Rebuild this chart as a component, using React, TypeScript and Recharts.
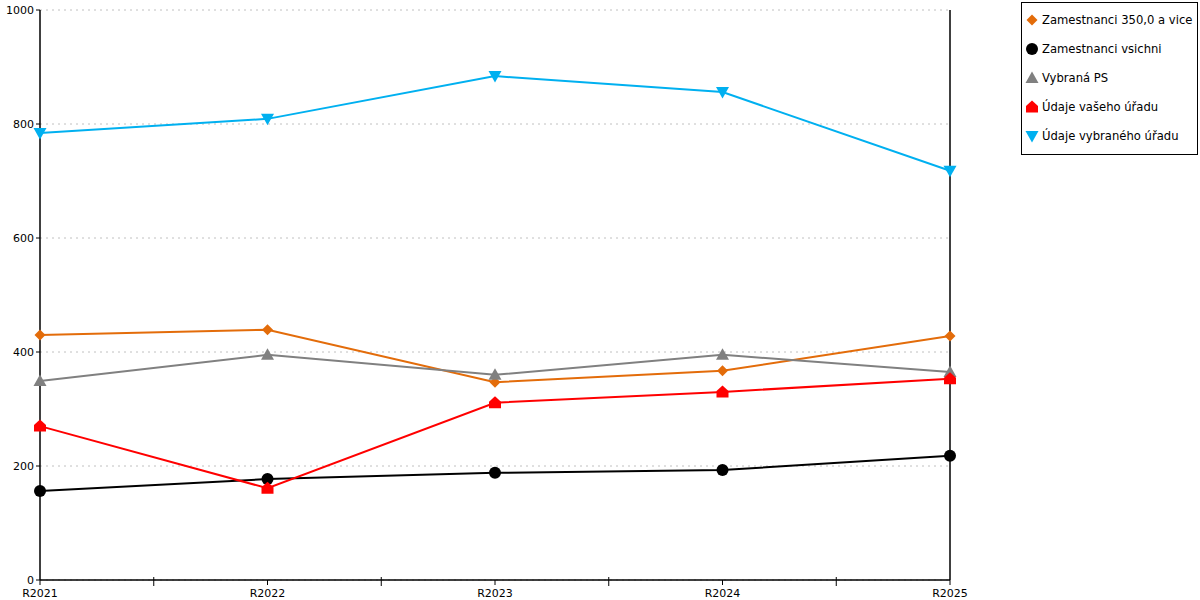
import React from "react";
import {
  LineChart,
  Line,
  XAxis,
  YAxis,
  CartesianGrid,
  ReferenceLine,
} from "recharts";

const years = ["R2021", "R2022", "R2023", "R2024", "R2025"];
const zam350 = [430, 439, 347, 367, 428];
const zamAll = [156, 177, 188, 193, 218];
const vybranaPS = [349, 395, 360, 395, 365];
const vasUrad = [270, 161, 311, 330, 353];
const vybranyUrad = [784, 809, 884, 856, 718];
const yTicks = [0, 200, 400, 600, 800, 1000];

const data = years.map((y, i) => ({
  year: y,
  zam350: zam350[i],
  zamAll: zamAll[i],
  ps: vybranaPS[i],
  vas: vasUrad[i],
  vyb: vybranyUrad[i],
}));

const FONT = "'DejaVu Sans', Verdana, sans-serif";

type Shape = "diamond" | "circle" | "triangle" | "house" | "down";

function Marker({ shape, cx, cy, fill }: { shape: Shape; cx: number; cy: number; fill: string }) {
  switch (shape) {
    case "diamond":
      return <polygon points={`${cx},${cy - 5.5} ${cx + 5.5},${cy} ${cx},${cy + 5.5} ${cx - 5.5},${cy}`} fill={fill} />;
    case "circle":
      return <circle cx={cx} cy={cy} r={6} fill={fill} />;
    case "triangle":
      return <polygon points={`${cx},${cy - 6.5} ${cx + 6.5},${cy + 5} ${cx - 6.5},${cy + 5}`} fill={fill} />;
    case "house":
      return (
        <polygon
          points={`${cx},${cy - 6.5} ${cx + 6},${cy - 1} ${cx + 6},${cy + 5.5} ${cx - 6},${cy + 5.5} ${cx - 6},${cy - 1}`}
          fill={fill}
        />
      );
    case "down":
      return <polygon points={`${cx - 6.5},${cy - 5} ${cx + 6.5},${cy - 5} ${cx},${cy + 6.5}`} fill={fill} />;
  }
}

const series = [
  { key: "zam350", name: "Zamestnanci 350,0 a vice", color: "#e36c0a", shape: "diamond" as Shape },
  { key: "zamAll", name: "Zamestnanci vsichni", color: "#000000", shape: "circle" as Shape },
  { key: "ps", name: "Vybraná PS", color: "#808080", shape: "triangle" as Shape },
  { key: "vas", name: "Údaje vašeho úřadu", color: "#ff0000", shape: "house" as Shape },
  { key: "vyb", name: "Údaje vybraného úřadu", color: "#00b0f0", shape: "down" as Shape },
];

function XTick(props: any) {
  const { x, y, payload, index } = props;
  const step = 910 / (years.length - 1);
  return (
    <g>
      <line x1={x} y1={y - 8} x2={x} y2={y - 3} stroke="#000" />
      {index < years.length - 1 && (
        <line x1={x + step / 2} y1={y - 11} x2={x + step / 2} y2={y - 2} stroke="#000" />
      )}
      <text x={x} y={y + 9} textAnchor="middle" fontSize={11} fontFamily={FONT} fill="#000">
        {payload.value}
      </text>
    </g>
  );
}

function LegendBox() {
  return (
    <div
      style={{
        position: "absolute",
        left: 1021,
        top: 2,
        width: 175,
        height: 151,
        border: "1px solid #000",
        fontFamily: FONT,
        fontSize: 11.6,
        background: "#fff",
      }}
    >
      {series.map((s, i) => (
        <div
          key={s.key}
          style={{ position: "absolute", left: 0, top: 9 + i * 29, display: "flex", alignItems: "center" }}
        >
          <svg width={20} height={16}>
            <Marker shape={s.shape} cx={10} cy={8} fill={s.color} />
          </svg>
          <span style={{ whiteSpace: "nowrap" }}>{s.name}</span>
        </div>
      ))}
    </div>
  );
}

export default function App() {
  return (
    <div style={{ position: "absolute", left: 0, top: 0, width: 1200, height: 600, background: "#fff" }}>
      <LineChart width={1200} height={600} data={data} margin={{ top: 10, right: 250, bottom: 0, left: 0 }}>
        <CartesianGrid horizontal vertical={false} stroke="#c0c0c0" strokeDasharray="2 4" />
        <XAxis
          dataKey="year"
          axisLine={{ stroke: "#000", strokeWidth: 1.5 }}
          tickLine={false}
          tick={<XTick />}
          interval={0}
          height={20}
        />
        <YAxis
          domain={[0, 1000]}
          ticks={yTicks}
          axisLine={{ stroke: "#000", strokeWidth: 1.5 }}
          tickLine={{ stroke: "#000" }}
          tickSize={4}
          width={40}
          tick={{ fontSize: 11, fontFamily: FONT, fill: "#000" }}
        />
        <ReferenceLine x="R2025" stroke="#000" strokeWidth={1.5} />
        {series.map((s) => (
          <Line
            key={s.key}
            dataKey={s.key}
            name={s.name}
            stroke={s.color}
            strokeWidth={2}
            isAnimationActive={false}
            dot={(p: any) => <Marker key={p.index} shape={s.shape} cx={p.cx} cy={p.cy} fill={s.color} />}
            activeDot={false}
          />
        ))}
      </LineChart>
      <LegendBox />
    </div>
  );
}
